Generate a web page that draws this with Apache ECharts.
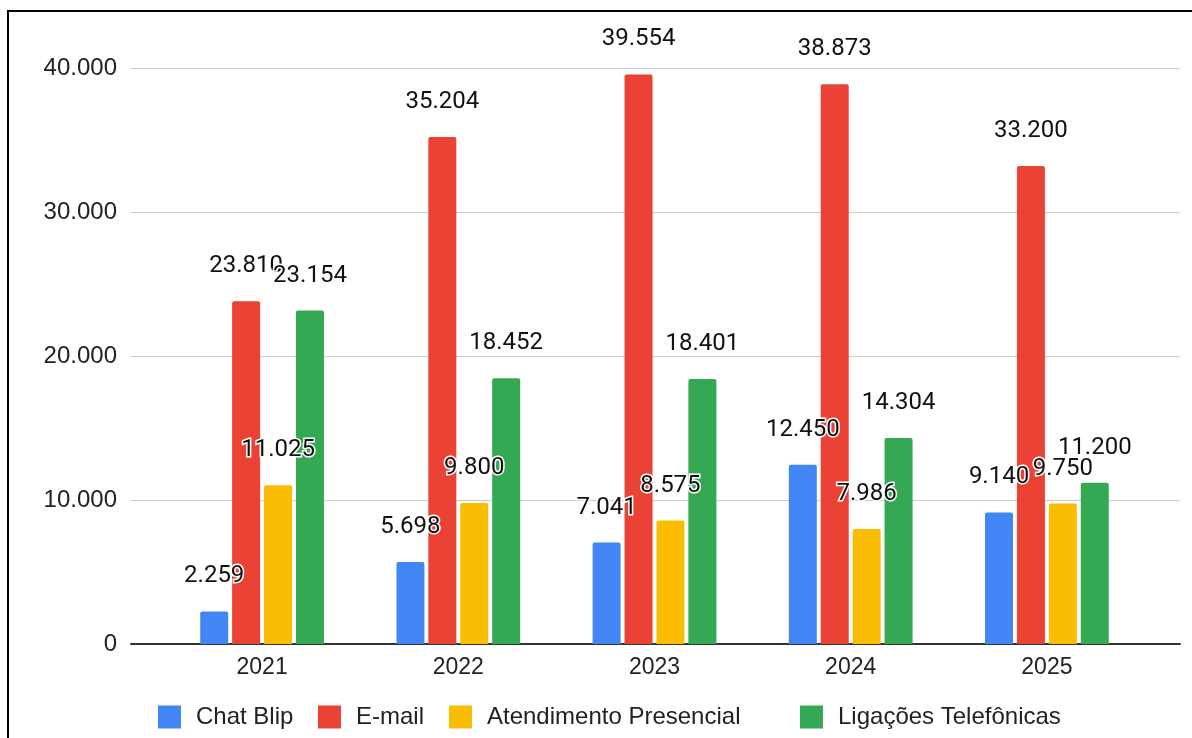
<!DOCTYPE html>
<html>
<head>
<meta charset="utf-8">
<script src="https://cdn.jsdelivr.net/npm/echarts@6/dist/echarts.min.js"></script>
<style>
  html, body { margin: 0; padding: 0; background: #fff; }
  #chart { width: 1192px; height: 738px; }
</style>
</head>
<body>
<div id="chart"></div>
<script>
// anos e valores por canal
var anos = ['2021', '2022', '2023', '2024', '2025'];
var canais = ['Chat Blip', 'E-mail', 'Atendimento Presencial', 'Ligações Telefônicas'];
var chatBlip = [2259, 5698, 7041, 12450, 9140];
var email = [23810, 35204, 39554, 38873, 33200];
var presencial = [11025, 9800, 8575, 7986, 9750];
var ligacoes = [23154, 18452, 18401, 14304, 11200];

var cores = ['#4285F4', '#EA4335', '#FBBC04', '#34A853'];
var legendaX = [158, 318, 449, 800]; // posição de cada item da legenda

function fmt(v) {
    // separador de milhar com ponto
    return String(v).replace(/\B(?=(\d{3})+(?!\d))/g, '.');
}

var labelStyle = {
    show: true,
    position: 'top',
    distance: 23,
    fontFamily: 'Roboto',
    fontSize: 24,
    color: '#111',
    textBorderColor: '#fff',
    textBorderWidth: 3,
    formatter: function (p) { return fmt(p.value); }
};

function serie(nome, cor, dados) {
    return {
        name: nome,
        type: 'bar',
        xAxisIndex: 0,
        yAxisIndex: 0,
        barWidth: 28,
        barGap: '14%',
        itemStyle: { color: cor, borderRadius: [2, 2, 0, 0] },
        label: labelStyle,
        data: dados
    };
}

var legendas = canais.map(function (nome, i) {
    return {
        left: legendaX[i],
        top: 705,
        padding: 0,
        itemWidth: 23,
        itemHeight: 23,
        icon: 'rect',
        textStyle: {
            fontFamily: 'Liberation Sans',
            fontSize: 24,
            color: '#222',
            padding: [0, 0, 0, 10]
        },
        data: [nome]
    };
});

var myChart = echarts.init(document.getElementById('chart'));
var option = {
    animation: false,
    backgroundColor: '#fff',
    graphic: [{
        type: 'rect',
        z: -10,
        shape: { x: 8, y: 11, width: 1400, height: 1000 },
        style: { fill: 'none', stroke: '#000', lineWidth: 2 }
    }],
    legend: legendas,
    grid: [
        { left: 164, right: 47, top: 68, bottom: 94 },   // barras
        { left: 131, right: 12, top: 68, bottom: 94 }    // eixo e linhas de grade
    ],
    xAxis: [{
        type: 'category',
        gridIndex: 0,
        data: anos,
        axisLine: { show: false },
        axisTick: { show: false },
        axisLabel: {
            margin: 12,
            fontFamily: 'Liberation Sans',
            fontSize: 23,
            color: '#222'
        }
    }, {
        type: 'value',
        gridIndex: 1,
        min: 0,
        max: 1,
        axisLine: { show: true, lineStyle: { color: '#333', width: 2 } },
        axisTick: { show: false },
        axisLabel: { show: false },
        splitLine: { show: false }
    }],
    yAxis: [{
        type: 'value',
        gridIndex: 0,
        min: 0,
        max: 40000,
        show: false
    }, {
        type: 'value',
        gridIndex: 1,
        min: 0,
        max: 40000,
        interval: 10000,
        axisLine: { show: false },
        axisTick: { show: false },
        axisLabel: {
            margin: 14,
            fontFamily: 'Liberation Sans',
            fontSize: 24,
            color: '#222',
            formatter: function (v) { return fmt(v); }
        },
        splitLine: { lineStyle: { color: '#ccc', width: 1 } }
    }],
    series: [
        serie(canais[0], cores[0], chatBlip),
        serie(canais[1], cores[1], email),
        serie(canais[2], cores[2], presencial),
        serie(canais[3], cores[3], ligacoes)
    ]
};
myChart.setOption(option);
</script>
</body>
</html>
